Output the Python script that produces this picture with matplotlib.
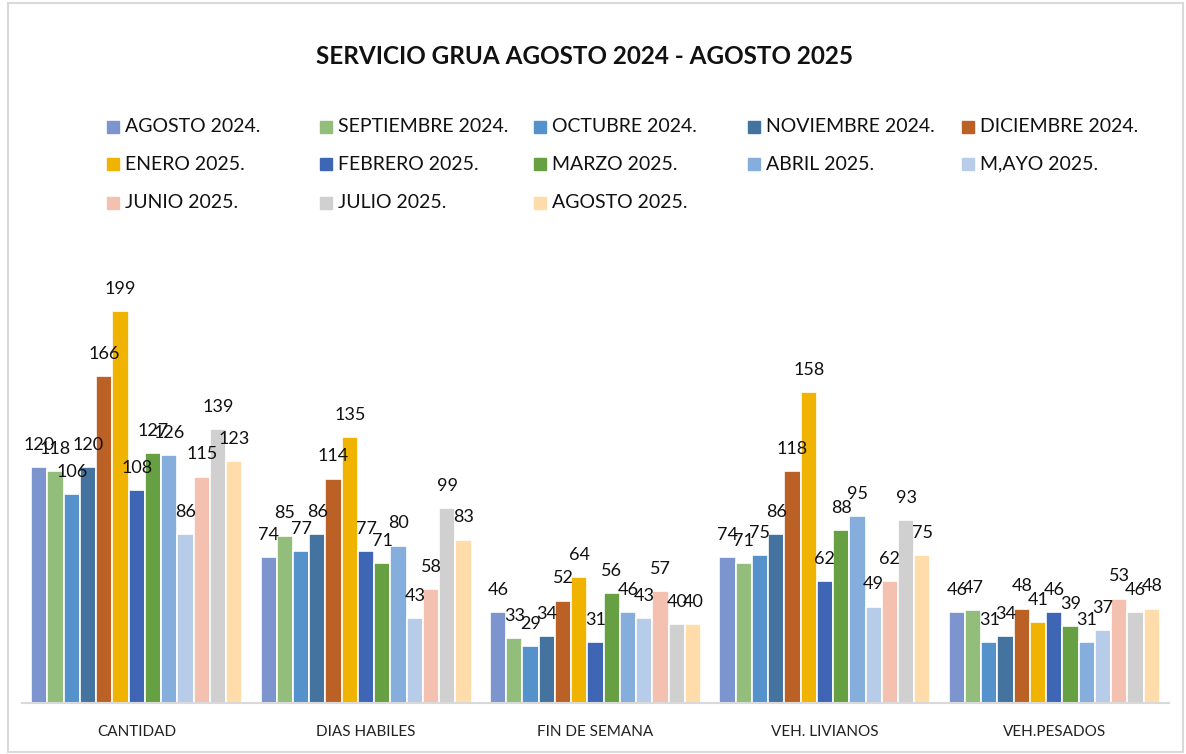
import numpy as np
import matplotlib
matplotlib.use("Agg")
import matplotlib.pyplot as plt
from matplotlib.patches import Rectangle

plt.rcParams['font.family'] = ['Lato', 'DejaVu Sans']

# categorias del eje x
categorias = ['CANTIDAD', 'DIAS HABILES', 'FIN DE SEMANA', 'VEH. LIVIANOS', 'VEH.PESADOS']

# meses (series)
meses = ['AGOSTO 2024.', 'SEPTIEMBRE 2024.', 'OCTUBRE 2024.', 'NOVIEMBRE 2024.', 'DICIEMBRE 2024.',
         'ENERO 2025.', 'FEBRERO 2025.', 'MARZO 2025.', 'ABRIL 2025.', 'M,AYO 2025.',
         'JUNIO 2025.', 'JULIO 2025.', 'AGOSTO 2025.']

colores = ['#7C95CF', '#93BD7B', '#5592CB', '#44739F', '#BC6126',
           '#F0B400', '#3F66B5', '#67A043', '#86AEDC', '#B7CCE8',
           '#F4C1B1', '#D0D0D0', '#FFDCA9']

# valores por mes: [cantidad, dias habiles, fin de semana, livianos, pesados]
ago24 = [120, 74, 46, 74, 46]
sep24 = [118, 85, 33, 71, 47]
oct24 = [106, 77, 29, 75, 31]
nov24 = [120, 86, 34, 86, 34]
dic24 = [166, 114, 52, 118, 48]
ene25 = [199, 135, 64, 158, 41]
feb25 = [108, 77, 31, 62, 46]
mar25 = [127, 71, 56, 88, 39]
abr25 = [126, 80, 46, 95, 31]
may25 = [86, 43, 43, 49, 37]
jun25 = [115, 58, 57, 62, 53]
jul25 = [139, 99, 40, 93, 46]
ago25 = [123, 83, 40, 75, 48]

valores = [ago24, sep24, oct24, nov24, dic24, ene25, feb25,
           mar25, abr25, may25, jun25, jul25, ago25]

W, H = 1186, 754
fig = plt.figure(figsize=(W / 100, H / 100), dpi=100)

# marco del grafico
fig.add_artist(Rectangle((8 / W, 2 / H), 1175 / W, 749 / H, transform=fig.transFigure,
                         fill=False, edgecolor='#D9D9D9', lw=1.5))

ax = fig.add_axes([22 / W, 51 / H, 1147 / W, 433 / H])
x = np.arange(len(categorias))
ancho = 0.0708
n = len(meses)

for i, (mes, col, vals) in enumerate(zip(meses, colores, valores)):
    pos = x + (i - (n - 1) / 2) * ancho
    ax.bar(pos, vals, width=ancho, color=col, edgecolor='white', linewidth=1.2, label=mes)
    for px, v in zip(pos, vals):
        ax.annotate(str(v), (px, v), xytext=(0, 16), textcoords='offset points',
                    ha='center', va='center', fontsize=13, color='#111111')

ax.set_xlim(-0.5, len(categorias) - 0.5)
ax.set_ylim(0, 220)
ax.set_yticks([])
ax.set_xticks(x)
ax.set_xticklabels(categorias, fontsize=11, color='#222222')
ax.tick_params(axis='x', length=0, pad=16)
for s in ['top', 'right', 'left']:
    ax.spines[s].set_visible(False)
ax.spines['bottom'].set_color('#D9D9D9')
ax.spines['bottom'].set_linewidth(1.5)

fig.text(585 / W, 1 - 57 / H, 'SERVICIO GRUA AGOSTO 2024 - AGOSTO 2025',
         ha='center', va='center', fontsize=17.5, fontweight='bold', color='#111111')

# leyenda en filas de 5
col_x = [107, 320, 534, 748, 962]
fila_y = [127, 164, 203]
for i, (mes, col) in enumerate(zip(meses, colores)):
    cx = col_x[i % 5]
    cy = fila_y[i // 5]
    fig.add_artist(Rectangle((cx / W, 1 - (cy + 6) / H), 12 / W, 12 / H,
                             transform=fig.transFigure, color=col))
    fig.text((cx + 18) / W, 1 - cy / H, mes, ha='left', va='center',
             fontsize=14, color='#111111')

fig.savefig('out.png', dpi=100)
